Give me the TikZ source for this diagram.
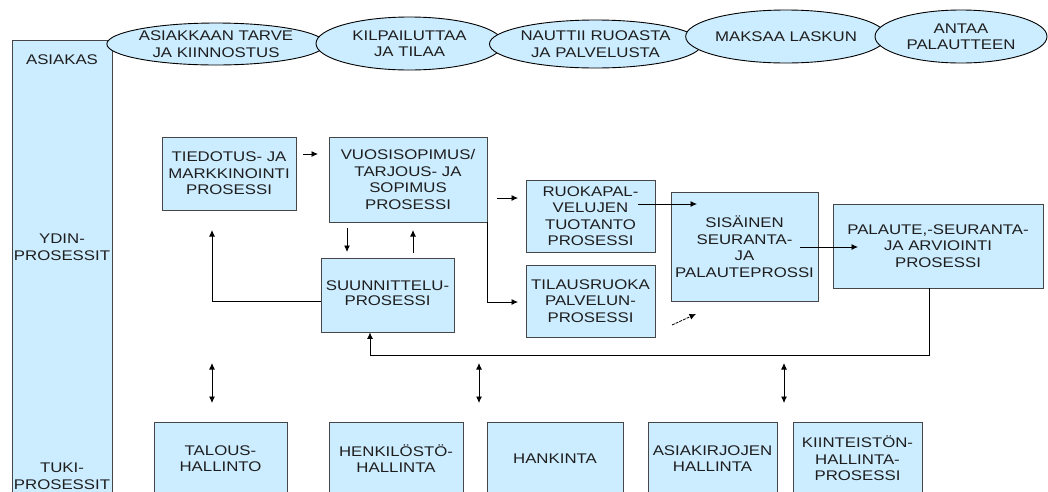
\documentclass[tikz,border=0pt]{standalone}
\usepackage{fontspec}
\setmainfont{Liberation Sans}[FakeStretch=1.2]
\usetikzlibrary{shapes.geometric,arrows.meta}
\definecolor{boxfill}{RGB}{204,236,255}
\definecolor{boxline}{RGB}{70,70,70}
\definecolor{txt}{RGB}{30,30,30}
\tikzset{
  every node/.style={font=\fontsize{14}{16.5}\selectfont, text=txt, align=center, inner sep=0pt},
  pbox/.style={draw=boxline, line width=0.9pt, fill=boxfill, rectangle},
  oval/.style={draw=black, line width=0.9pt, fill=boxfill, ellipse},
  tip/.tip={Latex[length=6.5pt,width=6pt]},
  arr/.style={draw=black, line width=0.8pt, -tip},
  dbl/.style={draw=black, line width=0.8pt, tip-tip},
  dsh/.style={arr, dash pattern=on 3pt off 1pt}
}
\begin{document}
\begin{tikzpicture}[x=1pt,y=-1pt]
\useasboundingbox (0,0) rectangle (1048,491);
\clip (0,0) rectangle (1048,491);
% left column
\node[pbox, minimum width=100pt, minimum height=470pt] (col) at (62,275) {};
\node (lasi) at (62,60) {ASIAKAS};
\node (lydin) at (62,247) {YDIN-\\PROSESSIT};
\node (ltuki) at (62,476) {TUKI-\\PROSESSIT};
% ellipses
\node[oval, minimum width=192pt, minimum height=42pt] (e1) at (216,44) {ASIAKKAAN TARVE\\JA KIINNOSTUS};
\node[oval, minimum width=187pt, minimum height=53pt] (e2) at (409.5,43.5) {KILPAILUTTAA\\JA TILAA};
\node[oval, minimum width=185pt, minimum height=48pt] (e3) at (595.5,44) {NAUTTII RUOASTA\\JA PALVELUSTA};
\node[oval, minimum width=178pt, minimum height=53pt] (e4) at (786,36.5) {MAKSAA LASKUN};
\node[oval, minimum width=172pt, minimum height=53pt] (e5) at (961,36.5) {ANTAA\\PALAUTTEEN};
% core processes
\node[pbox, minimum width=134pt, minimum height=73pt] (tied) at (229,173.5) {TIEDOTUS- JA\\MARKKINOINTI\\PROSESSI};
\node[pbox, minimum width=158pt, minimum height=85pt] (vuos) at (408,179.5) {VUOSISOPIMUS/\\TARJOUS- JA\\SOPIMUS\\PROSESSI};
\node[pbox, minimum width=133pt, minimum height=74pt] (suun) at (387.5,295) {\raisebox{-5pt}{\begin{tabular}{@{}c@{}}SUUNNITTELU-\\[-1.5pt]PROSESSI\end{tabular}}};
\node[pbox, minimum width=129pt, minimum height=72pt] (ruok) at (590.5,216) {RUOKAPAL-\\VELUJEN\\TUOTANTO\\PROSESSI};
\node[pbox, minimum width=129pt, minimum height=72pt] (tila) at (590.5,301) {TILAUSRUOKA\\PALVELUN-\\PROSESSI};
\node[pbox, minimum width=147pt, minimum height=109pt] (sisa) at (744.5,246.5) {SISÄINEN\\SEURANTA-\\JA\\PALAUTEPROSSI};
\node[pbox, minimum width=210pt, minimum height=84pt] (pala) at (938,246) {PALAUTE,-SEURANTA-\\JA ARVIOINTI\\PROSESSI};
% support processes
\node[pbox, minimum width=133pt, minimum height=73pt] (talo) at (220.5,458.5) {TALOUS-\\HALLINTO};
\node[pbox, minimum width=134pt, minimum height=73pt] (henk) at (396,458.5) {HENKILÖSTÖ-\\HALLINTA};
\node[pbox, minimum width=136pt, minimum height=73pt] (hank) at (555,458.5) {HANKINTA};
\node[pbox, minimum width=129pt, minimum height=73pt] (asia) at (712.5,458.5) {ASIAKIRJOJEN\\HALLINTA};
\node[pbox, minimum width=129pt, minimum height=73pt] (kiin) at (857.5,458.5) {KIINTEISTÖN-\\HALLINTA-\\PROSESSI};
% connector end points
\coordinate (a1s) at (303,154); \coordinate (a1e) at (318,154);
\coordinate (a2s) at (347,228); \coordinate (a2e) at (347,252);
\coordinate (a3s) at (413,253); \coordinate (a3e) at (413,230);
\coordinate (a4e) at (212,230);
\coordinate (a5s) at (497,198); \coordinate (a5e) at (518,198);
\coordinate (a6e) at (518,302);
\coordinate (a7s) at (638,204); \coordinate (a7e) at (697,204);
\coordinate (a8s) at (800,247); \coordinate (a8e) at (858,247);
\coordinate (a9s) at (672,325); \coordinate (a9e) at (696,314);
\coordinate (fb1) at (929,355); \coordinate (fb2) at (370,355);
\coordinate (d1s) at (212,363); \coordinate (d1e) at (212,403);
\coordinate (d2s) at (479,363); \coordinate (d2e) at (479,403);
\coordinate (d3s) at (784,363); \coordinate (d3e) at (784,403);
% connectors
\draw[arr] (a1s) -- (a1e);
\draw[arr] (a2s) -- (a2e);
\draw[arr] (a3s) -- (a3e);
\draw[arr] ([yshift=-6pt]suun.west) -| (a4e);
\draw[arr] (a5s) -- (a5e);
\draw[arr] (vuos.south east) |- (a6e);
\draw[arr] (a7s) -- (a7e);
\draw[arr] (a8s) -- (a8e);
\draw[dsh] (a9s) -- (a9e);
\draw[arr] (pala.south -| fb1) -- (fb1) -- (fb2) -- (suun.south -| fb2);
\draw[dbl] (d1s) -- (d1e);
\draw[dbl] (d2s) -- (d2e);
\draw[dbl] (d3s) -- (d3e);
\end{tikzpicture}
\end{document}
